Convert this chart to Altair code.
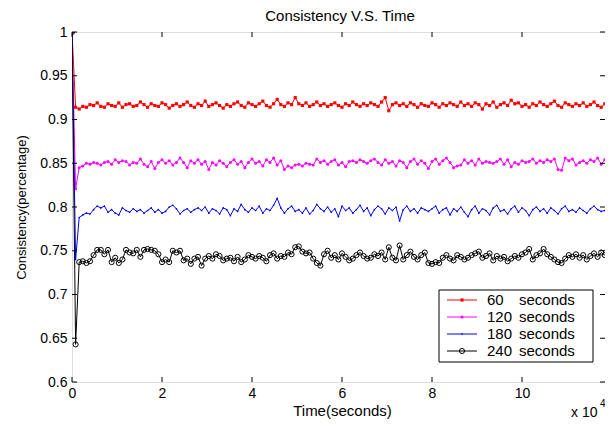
import altair as alt
import pandas as pd

# ---------------- data ----------------
time_s = [0] + [800 * i for i in range(1, 151)]

c60 = [1.0,
    0.914, 0.912, 0.915, 0.914, 0.917, 0.916, 0.919, 0.915, 0.914, 0.918,
    0.916, 0.915, 0.919, 0.914, 0.917, 0.918, 0.915, 0.916, 0.920, 0.917,
    0.914, 0.918, 0.916, 0.915, 0.919, 0.917, 0.913, 0.916, 0.918, 0.915,
    0.917, 0.920, 0.916, 0.914, 0.918, 0.916, 0.921, 0.915, 0.917, 0.919,
    0.916, 0.913, 0.917, 0.915, 0.918, 0.920, 0.916, 0.914, 0.919, 0.917,
    0.915, 0.918, 0.921, 0.916, 0.914, 0.918, 0.923, 0.917, 0.915, 0.919,
    0.917, 0.925, 0.918, 0.916, 0.919, 0.915, 0.917, 0.920, 0.916, 0.918,
    0.915, 0.917, 0.919, 0.916, 0.914, 0.918, 0.916, 0.920, 0.917, 0.915,
    0.918, 0.916, 0.919, 0.917, 0.915, 0.920, 0.925, 0.910, 0.917, 0.919,
    0.916, 0.918, 0.915, 0.919, 0.917, 0.914, 0.918, 0.916, 0.915, 0.919,
    0.917, 0.914, 0.918, 0.916, 0.919, 0.917, 0.915, 0.920, 0.916, 0.918,
    0.915, 0.919, 0.917, 0.912, 0.918, 0.916, 0.920, 0.914, 0.917, 0.919,
    0.916, 0.922, 0.918, 0.919, 0.915, 0.917, 0.914, 0.918, 0.916, 0.920,
    0.917, 0.915, 0.918, 0.921, 0.916, 0.914, 0.919, 0.917, 0.915, 0.918,
    0.916, 0.919, 0.915, 0.917, 0.920, 0.916, 0.914, 0.918, 0.916, 0.917]

c120 = [1.0,
    0.821, 0.845, 0.847, 0.850, 0.849, 0.851, 0.850, 0.848, 0.851, 0.852,
    0.849, 0.854, 0.851, 0.853, 0.852, 0.848, 0.851, 0.850, 0.855, 0.849,
    0.846, 0.852, 0.844, 0.851, 0.854, 0.850, 0.853, 0.848, 0.851, 0.856,
    0.851, 0.845, 0.853, 0.850, 0.854, 0.849, 0.852, 0.843, 0.851, 0.848,
    0.853, 0.850, 0.846, 0.851, 0.854, 0.849, 0.852, 0.845, 0.851, 0.855,
    0.850, 0.852, 0.847, 0.854, 0.851, 0.856, 0.848, 0.853, 0.843, 0.847,
    0.845, 0.848, 0.849, 0.847, 0.850, 0.849, 0.848, 0.855, 0.851, 0.853,
    0.849, 0.852, 0.854, 0.848, 0.851, 0.846, 0.852, 0.853, 0.851, 0.854,
    0.852, 0.850, 0.853, 0.855, 0.851, 0.848, 0.854, 0.850, 0.852, 0.847,
    0.853, 0.851, 0.845, 0.852, 0.855, 0.849, 0.853, 0.850, 0.844, 0.852,
    0.855, 0.849, 0.853, 0.856, 0.851, 0.845, 0.847, 0.848, 0.854, 0.850,
    0.853, 0.848, 0.855, 0.850, 0.852, 0.851, 0.850, 0.852, 0.855, 0.849,
    0.854, 0.846, 0.851, 0.849, 0.853, 0.851, 0.852, 0.855, 0.850, 0.853,
    0.851, 0.854, 0.852, 0.855, 0.843, 0.842, 0.856, 0.853, 0.855, 0.848,
    0.851, 0.853, 0.850, 0.854, 0.852, 0.856, 0.849, 0.854, 0.851, 0.852]

c180 = [1.0,
    0.740, 0.788, 0.791, 0.793, 0.792, 0.797, 0.801, 0.799, 0.801, 0.794,
    0.797, 0.793, 0.791, 0.799, 0.796, 0.794, 0.798, 0.795, 0.797, 0.793,
    0.796, 0.799, 0.794, 0.797, 0.793, 0.795, 0.800, 0.802, 0.798, 0.792,
    0.796, 0.798, 0.794, 0.797, 0.799, 0.796, 0.800, 0.793, 0.798, 0.796,
    0.792, 0.799, 0.797, 0.790, 0.798, 0.795, 0.803, 0.797, 0.794, 0.799,
    0.796, 0.801, 0.793, 0.798, 0.796, 0.802, 0.810, 0.799, 0.793, 0.798,
    0.801, 0.795, 0.797, 0.793, 0.799, 0.792, 0.796, 0.803, 0.798, 0.795,
    0.800, 0.794, 0.798, 0.789, 0.801, 0.796, 0.799, 0.793, 0.797, 0.802,
    0.795, 0.799, 0.790, 0.797, 0.801, 0.798, 0.792, 0.799, 0.796, 0.800,
    0.784, 0.797, 0.801, 0.795, 0.798, 0.793, 0.799, 0.797, 0.795, 0.798,
    0.801, 0.793, 0.797, 0.799, 0.791, 0.798, 0.795, 0.800, 0.794, 0.789,
    0.797, 0.801, 0.793, 0.798, 0.796, 0.791, 0.799, 0.802, 0.795, 0.797,
    0.792, 0.798, 0.801, 0.794, 0.799, 0.796, 0.790, 0.797, 0.800, 0.795,
    0.798, 0.793, 0.799, 0.796, 0.792, 0.798, 0.801, 0.795, 0.797, 0.794,
    0.799, 0.796, 0.793, 0.798, 0.801, 0.797, 0.795, 0.796, 0.804, 0.801]

c240 = [1.0,
    0.643, 0.737, 0.738, 0.736, 0.738, 0.745, 0.751, 0.751, 0.746, 0.751,
    0.737, 0.742, 0.736, 0.740, 0.751, 0.748, 0.747, 0.751, 0.743, 0.751,
    0.752, 0.751, 0.750, 0.746, 0.737, 0.740, 0.737, 0.750, 0.748, 0.750,
    0.739, 0.741, 0.735, 0.741, 0.743, 0.733, 0.741, 0.744, 0.741, 0.746,
    0.744, 0.739, 0.741, 0.742, 0.738, 0.743, 0.737, 0.740, 0.745, 0.743,
    0.741, 0.744, 0.742, 0.738, 0.745, 0.747, 0.741, 0.744, 0.743, 0.748,
    0.746, 0.754, 0.755, 0.749, 0.747, 0.748, 0.741, 0.736, 0.733, 0.746,
    0.750, 0.742, 0.745, 0.740, 0.747, 0.743, 0.739, 0.741, 0.745, 0.748,
    0.744, 0.741, 0.742, 0.746, 0.744, 0.748, 0.740, 0.754, 0.742, 0.739,
    0.756, 0.740, 0.745, 0.749, 0.743, 0.740, 0.745, 0.748, 0.736, 0.735,
    0.737, 0.736, 0.742, 0.745, 0.741, 0.739, 0.745, 0.743, 0.740, 0.742,
    0.745, 0.747, 0.749, 0.742, 0.744, 0.747, 0.739, 0.744, 0.741, 0.743,
    0.738, 0.741, 0.744, 0.742, 0.746, 0.748, 0.752, 0.740, 0.745, 0.747,
    0.752, 0.746, 0.743, 0.740, 0.737, 0.736, 0.741, 0.745, 0.743, 0.746,
    0.742, 0.745, 0.740, 0.744, 0.747, 0.743, 0.748, 0.745, 0.750, 0.748]

series_numbers = ["60", "120", "180", "240"]
series_unit = "seconds"
series_values = [c60, c120, c180, c240]
series_colors = ["#ff0000", "#ff00ff", "#0000ff", "#000000"]

x_ticks = [0, 20000, 40000, 60000, 80000, 100000]
y_ticks = [0.6, 0.65, 0.7, 0.75, 0.8, 0.85, 0.9, 0.95, 1.0]
title_text = "Consistency V.S. Time"
x_title = "Time(seconds)"
y_title = "Consistency(percentage)"

# ---------------- layout / style ----------------
# 45 px per 10^4 s; the visible frame is cropped at the right like the reference
W, H = 533, 350
X_MAX = 118444
FONT = "Liberation Sans"
TICK = 5

rows = []
for num, vals in zip(series_numbers, series_values):
    for t, v in zip(time_s, vals):
        rows.append({"t": t, "v": v, "s": num})
df = pd.DataFrame(rows)

x_scale = alt.Scale(domain=[0, X_MAX], nice=False, zero=False)
y_scale = alt.Scale(domain=[0.6, 1.0], nice=False, zero=False)

x_axis = alt.Axis(values=x_ticks, labelExpr="format(datum.value / 10000, '~g')",
                  ticks=False, tickSize=0, domain=False, grid=False, labelFlush=False,
                  labelFont=FONT, labelFontSize=14, labelColor="black", labelPadding=4,
                  title=x_title, titleFont=FONT, titleFontSize=15,
                  titleFontWeight="normal", titleColor="black",
                  titleX=270, titleY=28, titleBaseline="middle", titleAlign="center")
y_axis = alt.Axis(values=y_ticks, labelExpr="format(datum.value, '~g')",
                  ticks=False, tickSize=0, domain=False, grid=False, labelFlush=False,
                  labelFont=FONT, labelFontSize=14, labelColor="black", labelPadding=5,
                  title=y_title, titleFont=FONT, titleFontSize=13,
                  titleFontWeight="normal", titleColor="black",
                  titleX=-51, titleY=H / 2, titleAngle=270,
                  titleBaseline="middle", titleAlign="center")

X = alt.X("t:Q", scale=x_scale, axis=x_axis)
Y = alt.Y("v:Q", scale=y_scale, axis=y_axis)

layers = []

marker_specs = [
    dict(shape="square", filled=True, size=10, strokeWidth=0),
    dict(shape="circle", filled=True, size=9, strokeWidth=0),
    dict(shape="circle", filled=True, size=3, strokeWidth=0),
    dict(shape="circle", filled=False, size=26, strokeWidth=1),
]

for num, col, mk in zip(series_numbers, series_colors, marker_specs):
    base = alt.Chart(df).transform_filter(alt.datum.s == num)
    layers.append(base.mark_line(color=col, strokeWidth=1, clip=True).encode(x=X, y=Y))
    layers.append(base.mark_point(color=col, opacity=1, clip=True, **mk).encode(x=X, y=Y))

# inward MATLAB-style ticks on all four sides
xt = pd.DataFrame({"t": x_ticks})
yt = pd.DataFrame({"v": y_ticks})
layers.append(alt.Chart(xt).mark_rule(color="black", strokeWidth=1).encode(
    x=X, y=alt.value(H), y2=alt.value(H - TICK)))
layers.append(alt.Chart(xt).mark_rule(color="black", strokeWidth=1).encode(
    x=X, y=alt.value(0), y2=alt.value(TICK)))
layers.append(alt.Chart(yt).mark_rule(color="black", strokeWidth=1).encode(
    y=Y, x=alt.value(0), x2=alt.value(TICK)))
layers.append(alt.Chart(yt).mark_rule(color="black", strokeWidth=1).encode(
    y=Y, x=alt.value(W), x2=alt.value(W - TICK)))

one = pd.DataFrame({"a": [0]})

# title
layers.append(alt.Chart(one).mark_text(align="center", baseline="middle", font=FONT,
                                       fontSize=15, color="black").encode(
    x=alt.value(268), y=alt.value(-16), text=alt.value(title_text)))

# legend box
LX0, LX1, LY0, LY1 = 367, 521, 258, 330
layers.append(alt.Chart(one).mark_rect(fill="white", stroke="black", strokeWidth=1).encode(
    x=alt.value(LX0), x2=alt.value(LX1), y=alt.value(LY0), y2=alt.value(LY1)))
row_y = [268, 285, 302, 319]
for num, col, mk, ry in zip(series_numbers, series_colors, marker_specs, row_y):
    layers.append(alt.Chart(one).mark_rule(color=col, strokeWidth=1).encode(
        x=alt.value(375), x2=alt.value(405), y=alt.value(ry)))
    layers.append(alt.Chart(one).mark_point(color=col, opacity=1, **mk).encode(
        x=alt.value(390), y=alt.value(ry)))
    layers.append(alt.Chart(one).mark_text(align="left", baseline="middle", font=FONT,
                                           fontSize=15, color="black").encode(
        x=alt.value(415), y=alt.value(ry), text=alt.value(num)))
    layers.append(alt.Chart(one).mark_text(align="left", baseline="middle", font=FONT,
                                           fontSize=15, color="black").encode(
        x=alt.value(447), y=alt.value(ry), text=alt.value(series_unit)))

# x 10^4 exponent note
layers.append(alt.Chart(one).mark_text(align="left", baseline="middle", font=FONT,
                                       fontSize=14, color="black").encode(
    x=alt.value(499), y=alt.value(381), text=alt.value("x 10")))
layers.append(alt.Chart(one).mark_text(align="left", baseline="middle", font=FONT,
                                       fontSize=10, color="black").encode(
    x=alt.value(528), y=alt.value(372), text=alt.value("4")))

chart = alt.layer(*layers).properties(
    width=W, height=H,
    padding={"left": 64, "top": 24, "right": 0, "bottom": 43},
    autosize=alt.AutoSizeParams(type="none"),
).configure_view(stroke="black", strokeWidth=1).configure(background="white")

chart.save("out.html", embed_options={"renderer": "svg", "actions": False})
